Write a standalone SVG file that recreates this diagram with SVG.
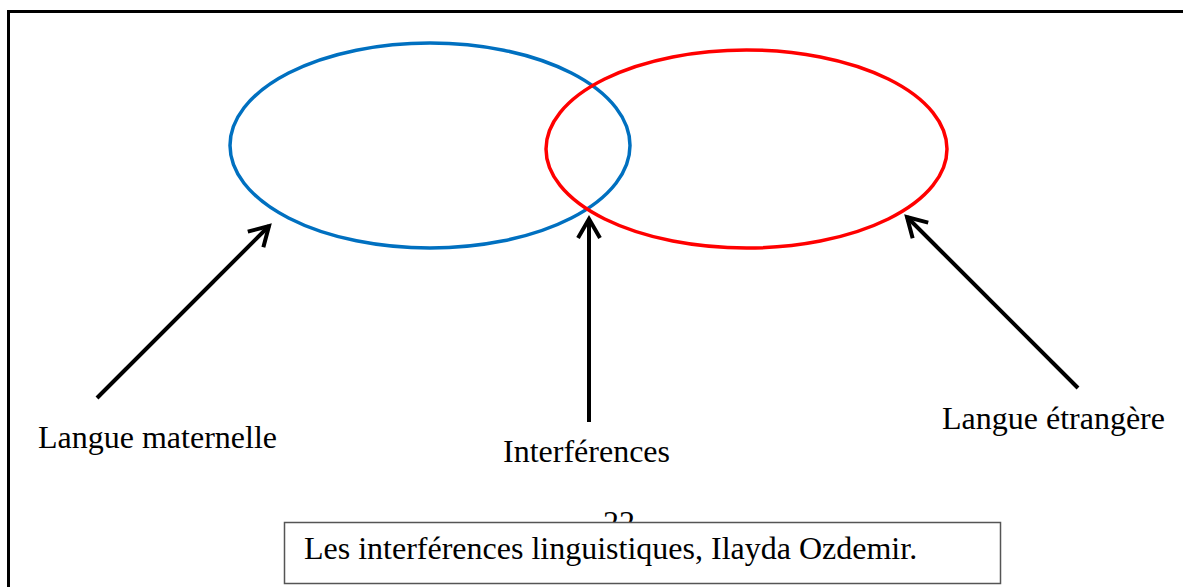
<svg xmlns="http://www.w3.org/2000/svg" width="1183" height="587" viewBox="0 0 1183 587">
<style>
.lbl{font-family:"Liberation Serif","Times New Roman",serif;font-size:32px;fill:#000}
.arr{stroke:#000;stroke-width:4;fill:none;stroke-linecap:butt}
</style>
<defs>
<marker id="head" markerUnits="userSpaceOnUse" markerWidth="40" markerHeight="40" viewBox="-30 -20 40 40" refX="0" refY="0" orient="auto">
<path d="M-19,-11 L0,0 L-19,11" fill="none" stroke="#000" stroke-width="4" stroke-linejoin="miter"/>
</marker>
<clipPath id="aboveBox"><rect x="0" y="0" width="1183" height="522"/></clipPath>
</defs>
<rect width="1183" height="587" fill="#fff"/>
<g id="frame">
<path d="M8.5,587 V11.5 H1183" fill="none" stroke="#000" stroke-width="3"/>
</g>
<g id="langue-maternelle-circle">
<ellipse cx="430" cy="145.5" rx="200" ry="102.5" fill="none" stroke="#0070C0" stroke-width="3.5"/>
</g>
<g id="langue-etrangere-circle">
<ellipse cx="746.5" cy="149" rx="200.5" ry="99" fill="none" stroke="#FF0000" stroke-width="3.5"/>
</g>
<g id="connectors">
<line class="arr" x1="97" y1="398" x2="269" y2="226" marker-end="url(#head)"/>
<line class="arr" x1="589" y1="422" x2="589" y2="219" marker-end="url(#head)"/>
<line class="arr" x1="1078" y1="388" x2="907" y2="217" marker-end="url(#head)"/>
</g>
<g id="label-maternelle">
<text class="lbl" x="38" y="448">Langue maternelle</text>
</g>
<g id="label-interferences">
<text class="lbl" x="503" y="462">Interférences</text>
</g>
<g id="label-etrangere">
<text class="lbl" x="942" y="429">Langue étrangère</text>
</g>
<g id="page-number" clip-path="url(#aboveBox)">
<text class="lbl" x="603" y="533">22</text>
</g>
<g id="caption">
<rect x="284.5" y="522.5" width="716" height="61" fill="#fff" stroke="#555" stroke-width="1.5"/>
<text class="lbl" x="304" y="559">Les interférences linguistiques, Ilayda Ozdemir.</text>
</g>
</svg>
